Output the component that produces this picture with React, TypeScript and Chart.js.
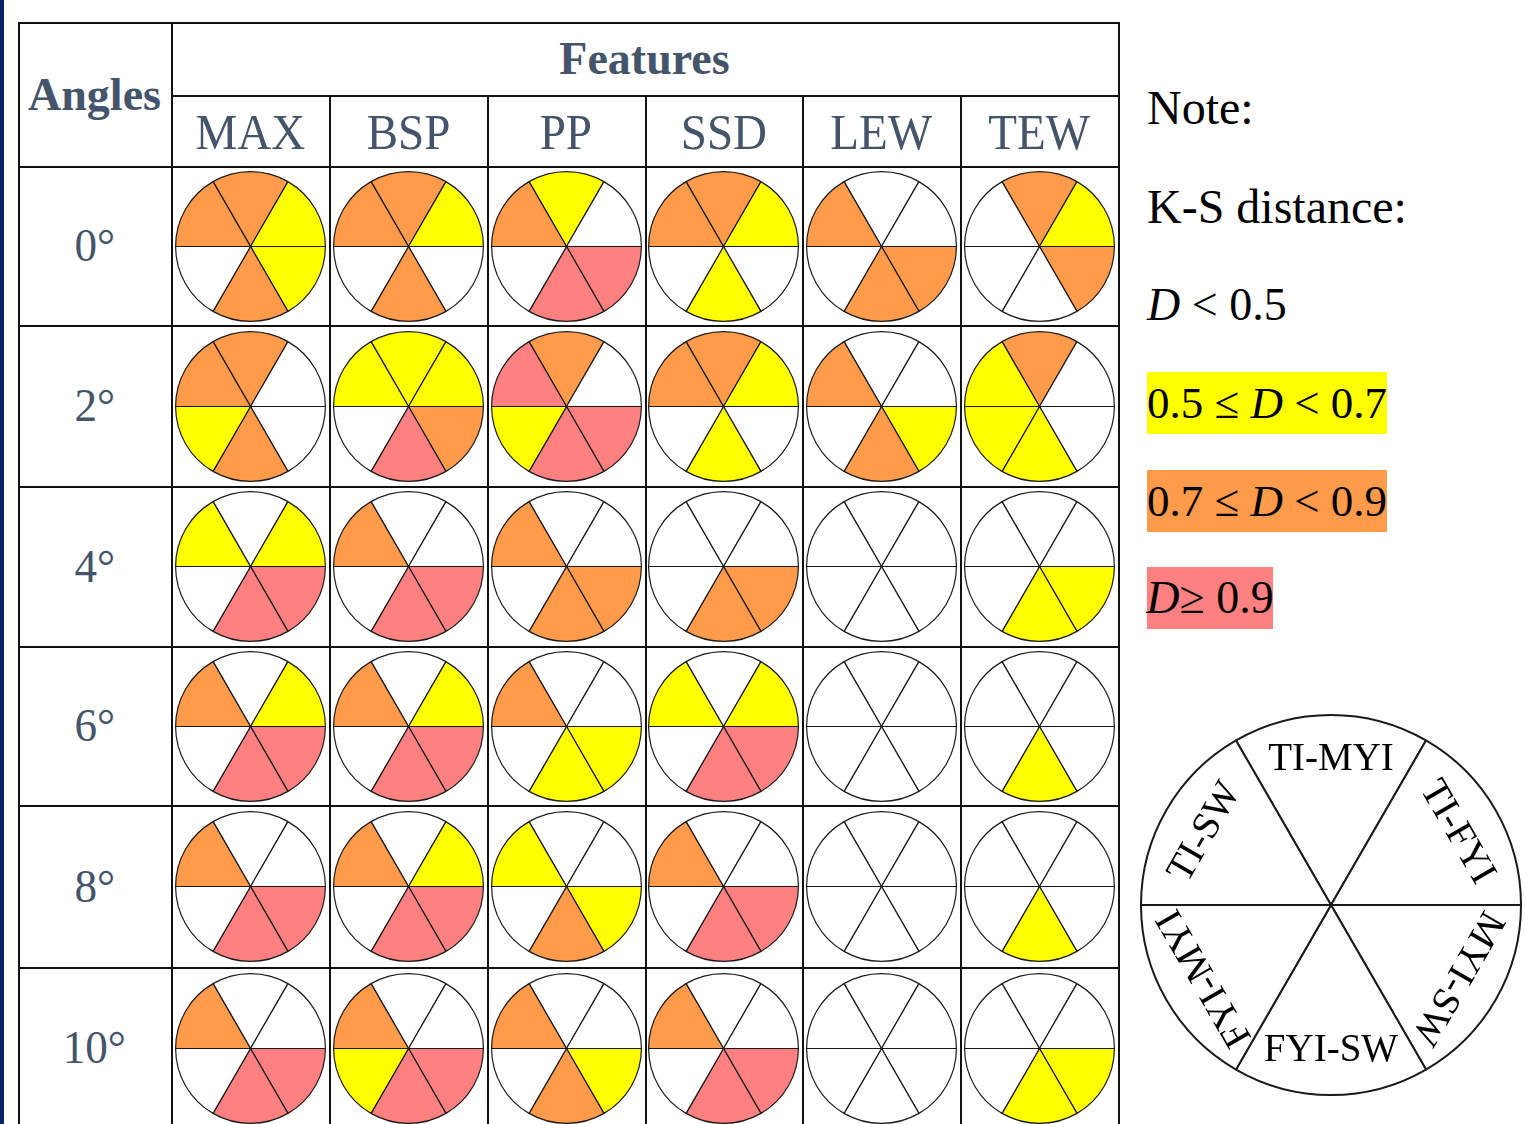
import React, { useEffect, useRef } from "react";
import { Chart, registerables } from "chart.js";

Chart.register(...registerables);

// ---------- DATA ----------
const angleLabels = ["0°", "2°", "4°", "6°", "8°", "10°"];
const featureNames = ["MAX", "BSP", "PP", "SSD", "LEW", "TEW"];
// class pairs, clockwise from the top sector
const classPairs = ["TI-MYI", "TI-FYI", "MYI-SW", "FYI-SW", "FYI-MYI", "TI-SW"];
// K-S distance class: 0 = D<0.5, 1 = 0.5≤D<0.7, 2 = 0.7≤D<0.9, 3 = D≥0.9
// each row: one angle; values in classPairs order
const maxClasses = [
  [2, 1, 1, 2, 0, 2],
  [2, 0, 0, 2, 1, 2],
  [0, 1, 3, 3, 0, 1],
  [0, 1, 3, 3, 0, 2],
  [0, 0, 3, 3, 0, 2],
  [0, 0, 3, 3, 0, 2],
];
const bspClasses = [
  [2, 1, 0, 2, 0, 2],
  [1, 1, 2, 3, 0, 1],
  [0, 0, 3, 3, 0, 2],
  [0, 1, 3, 3, 0, 2],
  [0, 1, 3, 3, 0, 2],
  [0, 0, 3, 3, 1, 2],
];
const ppClasses = [
  [1, 0, 3, 3, 0, 2],
  [2, 0, 3, 3, 1, 3],
  [0, 0, 2, 2, 0, 2],
  [0, 0, 1, 1, 0, 2],
  [0, 0, 1, 2, 0, 1],
  [0, 0, 1, 2, 0, 2],
];
const ssdClasses = [
  [2, 1, 0, 1, 0, 2],
  [2, 1, 0, 1, 0, 2],
  [0, 0, 2, 2, 0, 0],
  [0, 1, 3, 3, 0, 1],
  [0, 0, 3, 3, 0, 2],
  [0, 0, 3, 3, 0, 2],
];
const lewClasses = [
  [0, 0, 2, 2, 0, 2],
  [0, 0, 1, 2, 0, 2],
  [0, 0, 0, 0, 0, 0],
  [0, 0, 0, 0, 0, 0],
  [0, 0, 0, 0, 0, 0],
  [0, 0, 0, 0, 0, 0],
];
const tewClasses = [
  [2, 1, 2, 0, 0, 0],
  [2, 0, 0, 1, 1, 1],
  [0, 0, 1, 1, 0, 0],
  [0, 0, 0, 1, 0, 0],
  [0, 0, 0, 1, 0, 0],
  [0, 0, 1, 1, 0, 0],
];
const featureClasses = [maxClasses, bspClasses, ppClasses, ssdClasses, lewClasses, tewClasses];
const classColors = ["#FFFFFF", "#FFFF00", "#FF9B4B", "#FF8080"];

// ---------- LAYOUT ----------
const colX = [18, 171, 329, 487, 645, 802, 960, 1118];
const rowY = [166, 325, 486, 646, 805, 967, 1128];
const HEAD = "#44546A";
const LINE = "#111";

const labelPlugin = {
  id: "pairLabels",
  afterDatasetsDraw(chart: any) {
    const ctx = chart.ctx;
    const meta = chart.getDatasetMeta(0);
    ctx.save();
    ctx.fillStyle = "#000";
    ctx.font = "39px 'Liberation Serif'";
    ctx.textAlign = "center";
    ctx.textBaseline = "middle";
    meta.data.forEach((arc: any, i: number) => {
      const p = arc.getProps(["x", "y", "startAngle", "endAngle", "outerRadius"], true);
      const mid = (p.startAngle + p.endAngle) / 2;
      const r = p.outerRadius * 0.765;
      const x = p.x + r * Math.cos(mid);
      const y = p.y + r * Math.sin(mid);
      let rot = mid + Math.PI / 2;
      const norm = ((mid % (2 * Math.PI)) + 2 * Math.PI) % (2 * Math.PI);
      if (Math.abs(norm - Math.PI / 2) < 0.1) rot = 0;
      ctx.save();
      ctx.translate(x, y);
      ctx.rotate(rot);
      ctx.fillText(chart.data.labels[i], 0, 0);
      ctx.restore();
    });
    ctx.restore();
  },
};

function PieCell(props: { codes: number[]; cx: number; cy: number; size: number; bw: number; labels?: boolean }) {
  const ref = useRef<HTMLCanvasElement>(null);
  useEffect(() => {
    const chart = new Chart(ref.current as HTMLCanvasElement, {
      type: "pie",
      data: {
        labels: classPairs,
        datasets: [
          {
            data: classPairs.map(() => 1),
            backgroundColor: props.codes.map((c) => classColors[c]),
            borderColor: "#1a1a1a",
            borderWidth: props.bw,
          },
        ],
      },
      options: {
        responsive: false,
        animation: false,
        events: [],
        rotation: -30,
        layout: { padding: 0 },
        plugins: { legend: { display: false }, tooltip: { enabled: false } },
      },
      plugins: props.labels ? [labelPlugin as any] : [],
    });
    return () => chart.destroy();
  }, []);
  return (
    <canvas
      ref={ref}
      width={props.size}
      height={props.size}
      style={{
        position: "absolute",
        left: props.cx - props.size / 2,
        top: props.cy - props.size / 2,
        width: props.size,
        height: props.size,
      }}
    />
  );
}

function Txt(props: { x: number; y: number; w: number; h: number; children: any; style?: any; sx?: number }) {
  return (
    <div
      style={{
        position: "absolute",
        left: props.x,
        top: props.y,
        width: props.w,
        height: props.h,
        display: "flex",
        alignItems: "center",
        justifyContent: "center",
        whiteSpace: "nowrap",
      }}
    >
      <span style={{ display: "inline-block", transform: `scaleX(${props.sx ?? 1})`, ...props.style }}>{props.children}</span>
    </div>
  );
}

export default function App() {
  const lines: any[] = [];
  lines.push({ l: colX[0], t: 22, w: colX[7] - colX[0], h: 2 });
  lines.push({ l: colX[1], t: 95, w: colX[7] - colX[1], h: 2 });
  rowY.slice(0, 6).forEach((y) => lines.push({ l: colX[0], t: y, w: colX[7] - colX[0], h: 2 }));
  colX.forEach((x, i) => {
    const top = i === 0 || i === 1 || i === 7 ? 22 : 95;
    lines.push({ l: x, t: top, w: 2, h: 1124 - top });
  });

  const legendItem = (top: number, bg: string | null, size: number, width: number | null, content: any) => (
    <div
      style={{
        position: "absolute",
        left: 1147,
        top,
        height: 62,
        width: width ?? undefined,
        display: "flex",
        alignItems: "center",
        justifyContent: width ? "center" : "flex-start",
        background: bg ?? "transparent",
        fontSize: size,
        color: "#000",
        whiteSpace: "nowrap",
        lineHeight: "62px",
      }}
    >
      {content}
    </div>
  );

  return (
    <div
      style={{
        position: "absolute",
        left: 0,
        top: 0,
        width: 1526,
        height: 1124,
        overflow: "hidden",
        background: "#fff",
        fontFamily: "'Liberation Serif', serif",
      }}
    >
      <div style={{ position: "absolute", left: 0, top: 0, width: 4, height: 1124, background: "#0A2463" }} />
      {lines.map((ln, i) => (
        <div key={i} style={{ position: "absolute", left: ln.l, top: ln.t, width: ln.w, height: ln.h, background: LINE }} />
      ))}
      <Txt x={colX[0]} y={22} w={colX[1] - colX[0]} h={rowY[0] - 22} sx={1.0}
        style={{ fontSize: 46, fontWeight: "bold", color: HEAD }}>Angles</Txt>
      <Txt x={colX[1]} y={22} w={colX[7] - colX[1]} h={73} sx={1.0}
        style={{ fontSize: 46, fontWeight: "bold", color: HEAD }}>Features</Txt>
      {featureNames.map((f, j) => (
        <Txt key={f} x={colX[j + 1]} y={97} w={colX[j + 2] - colX[j + 1]} h={69} sx={0.94}
          style={{ fontSize: 50, color: HEAD }}>{f}</Txt>
      ))}
      {angleLabels.map((a, i) => (
        <Txt key={a} x={colX[0]} y={rowY[i]} w={colX[1] - colX[0]} h={rowY[i + 1] - rowY[i]} sx={0.98}
          style={{ fontSize: 46, color: HEAD }}>{a}</Txt>
      ))}
      {featureClasses.map((fc, j) =>
        fc.map((codes, i) => (
          <PieCell
            key={`${j}-${i}`}
            codes={codes}
            cx={(colX[j + 1] + colX[j + 2]) / 2}
            cy={(rowY[i] + rowY[i + 1]) / 2 + 0.5}
            size={151}
            bw={1.2}
          />
        ))
      )}
      {legendItem(77, null, 48, null, <span>Note:</span>)}
      {legendItem(176, null, 48, null, <span>K-S distance:</span>)}
      {legendItem(274, null, 46, null, <span><i>D</i> &lt; 0.5</span>)}
      {legendItem(372, classColors[1], 45, 240, <span>0.5 ≤ <i>D</i> &lt; 0.7</span>)}
      {legendItem(470, classColors[2], 45, 240, <span>0.7 ≤ <i>D</i> &lt; 0.9</span>)}
      {legendItem(567, classColors[3], 46, 126, <span><i>D</i>≥ 0.9</span>)}
      <PieCell codes={[0, 0, 0, 0, 0, 0]} cx={1331} cy={905} size={382} bw={2} labels />
    </div>
  );
}
